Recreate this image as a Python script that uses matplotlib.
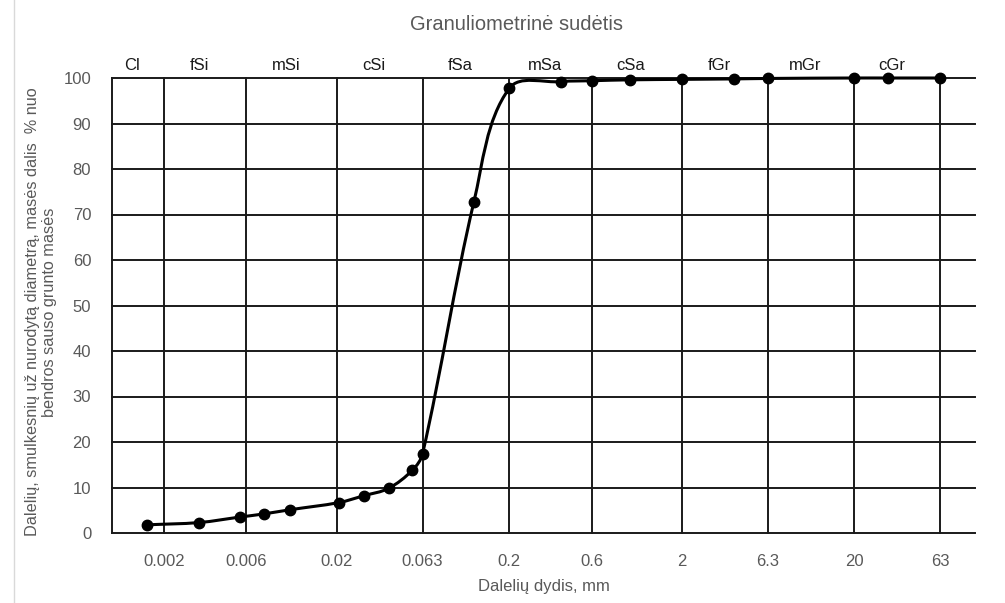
import numpy as np
import matplotlib
matplotlib.use("Agg")
import matplotlib.pyplot as plt
from matplotlib.path import Path
from matplotlib.patches import PathPatch
from matplotlib.lines import Line2D

plt.rcParams['font.family'] = ['Liberation Sans', 'DejaVu Sans']

# particle size (mm) and cumulative passing (%)
size_mm = [0.0016, 0.0032, 0.0055, 0.0076, 0.0107, 0.0207, 0.0288, 0.040,
           0.055, 0.063, 0.125, 0.2, 0.4, 0.6, 1.0, 2.0, 4.0, 6.3, 20.0,
           31.5, 63.0]
passing = [1.8, 2.3, 3.5, 4.2, 5.1, 6.7, 8.2, 9.8, 13.8, 17.4, 72.8, 97.7,
           99.2, 99.4, 99.6, 99.7, 99.8, 99.9, 100.0, 100.0, 100.0]

tick_vals = [0.002, 0.006, 0.02, 0.063, 0.2, 0.6, 2, 6.3, 20, 63]
tick_labels = ["0.002", "0.006", "0.02", "0.063", "0.2", "0.6", "2", "6.3",
               "20", "63"]
fractions = ["Cl", "fSi", "mSi", "cSi", "fSa", "mSa", "cSa", "fGr", "mGr", "cGr"]

TXT = "#595959"
FS = 12

fig = plt.figure(figsize=(10.05, 6.03), dpi=100)
ax = fig.add_axes([112/1005, 1-533/603, (975-112)/1005, (533-78)/603])

ax.set_xscale("log")
ax.set_xlim(0.001, 100)
ax.set_ylim(0, 100)


def smooth_path(xs, ys, sx=173.2, sy=4.55):
    """Excel-like smoothed line as cubic Bezier segments (log-x space)."""
    pts = np.column_stack([np.log10(xs) * sx, np.asarray(ys, float) * sy])
    n = len(pts)
    tang = []
    for i in range(n):
        d = pts[min(i + 1, n - 1)] - pts[max(i - 1, 0)]
        nrm = np.hypot(*d)
        tang.append(d / nrm if nrm > 0 else d)
    verts, codes = [pts[0]], [Path.MOVETO]
    for i in range(n - 1):
        p1, p2 = pts[i], pts[i + 1]
        L = np.hypot(*(p2 - p1)) / 3.0
        verts += [p1 + tang[i] * L, p2 - tang[i + 1] * L, p2]
        codes += [Path.CURVE4] * 3
    v = np.array(verts)
    v[:, 0] = 10 ** (v[:, 0] / sx)
    v[:, 1] = v[:, 1] / sy
    return Path(v, codes)


ax.add_patch(PathPatch(smooth_path(size_mm, passing), facecolor="none",
                       edgecolor="black", lw=2.2, zorder=3, clip_on=False))
ax.plot(size_mm, passing, ls="none", marker="o", ms=7.5, color="black",
        zorder=4, clip_on=False)

# grid
ax.set_xticks(tick_vals)
ax.set_xticklabels(tick_labels)
ax.xaxis.set_minor_locator(matplotlib.ticker.NullLocator())
ax.set_yticks(range(0, 101, 10))
ax.grid(True, color="#1a1a1a", lw=1.4)
for gl in ax.get_xgridlines() + ax.get_ygridlines():
    gl.set_clip_on(False)
ax.set_axisbelow(True)
for s in ["top", "right", "bottom"]:
    ax.spines[s].set_visible(False)
ax.spines["left"].set_color("#1a1a1a")
ax.spines["left"].set_linewidth(1.4)
ax.tick_params(length=0, pad=15, labelsize=FS, labelcolor=TXT)

# fraction labels above the grid
bounds = [0.001] + tick_vals
for i, name in enumerate(fractions):
    xm = np.sqrt(bounds[i] * bounds[i + 1])
    ax.annotate(name, xy=(xm, 1.0), xycoords=("data", "axes fraction"),
                xytext=(-4, 6), textcoords="offset points", ha="center",
                va="baseline", fontsize=FS, color="#1a1a1a")

ax.set_xlabel("Dalelių dydis, mm", fontsize=FS, color=TXT, labelpad=7)
fig.text(41/1005, 1-312/603,
         "Dalelių, smulkesnių už nurodytą diametrą, masės dalis  % nuo\n"
         "bendros sauso grunto masės",
         rotation=90, ha="center", va="center", multialignment="center",
         fontsize=11.7, color=TXT, linespacing=1.12)
fig.text(517/1005, 1-25/603, "Granuliometrinė sudėtis", ha="center",
         va="center", fontsize=14.5, color=TXT)

# light chart-area border on the left
fig.add_artist(Line2D([14/1005, 14/1005], [0, 1], transform=fig.transFigure,
                      color="#d9d9d9", lw=1))

fig.savefig("out.png", dpi=100)
